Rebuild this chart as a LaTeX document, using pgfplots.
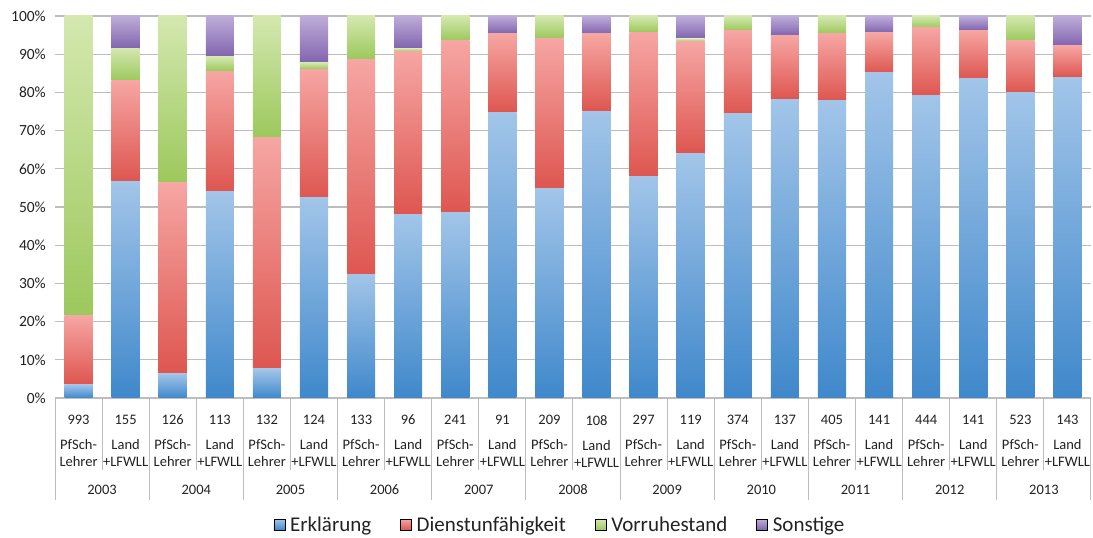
\documentclass[border=0pt]{standalone}
\usepackage{fontspec}
\setmainfont{Carlito}
\usepackage{pgfplots}
\pgfplotsset{compat=1.18}

\definecolor{bTop}{HTML}{A2C5E9}
\definecolor{bBot}{HTML}{3F88CB}
\definecolor{rTop}{HTML}{F6A6A3}
\definecolor{rBot}{HTML}{DE5650}
\definecolor{gTop}{HTML}{D4E8AF}
\definecolor{gBot}{HTML}{9CC85C}
\definecolor{pTop}{HTML}{BEADD9}
\definecolor{pBot}{HTML}{8164AE}
\definecolor{gridc}{HTML}{BDBDBD}
\definecolor{txt}{HTML}{222222}

\newcommand{\xfont}{\fontsize{14.5}{17}\selectfont}
\newcommand{\yfont}{\fontsize{15.5}{18}\selectfont}
\newcommand{\legfont}{\fontsize{21}{24}\selectfont}
\newcommand{\PL}[1]{#1\\[8pt]PfSch-\\Lehrer}
\newcommand{\LL}[1]{#1\\[8pt]Land\\+LFWLL}

\pgfplotsset{
  frame/.style={at={(55pt,140pt)}, anchor=south west,
    scale only axis, width=1036pt, height=382pt,
    xmin=-0.5, xmax=21.5, ymin=0, ymax=100, clip=false},
  colax/.style={frame, hide axis, ybar stacked, bar width=0.595},
}
% one stacked column (own axis, so that every segment gets its own gradient):
% x, Erklaerung, Dienstunfaehigkeit, Vorruhestand, Sonstige (percent)
\newcommand{\seg}[3]{\ifdim #2pt>0pt \addplot[draw=none, top color=#3Top, bottom color=#3Bot] coordinates {(#1,#2)};\fi}
\newcommand{\col}[5]{\begin{axis}[colax]\seg{#1}{#2}{b}\seg{#1}{#3}{r}\seg{#1}{#4}{g}\seg{#1}{#5}{p}\end{axis}}

\begin{document}
\begin{tikzpicture}[x=1pt,y=1pt]
\useasboundingbox (0,0) rectangle (1093,538);
\begin{axis}[
  frame,
  axis line style={draw=none},
  major tick length=0pt,
  xtick={0,...,21},
  xticklabels={{\PL{993}},{\LL{155}},{\PL{126}},{\LL{113}},{\PL{132}},{\LL{124}},{\PL{133}},{\LL{96}},{\PL{241}},{\LL{91}},{\PL{209}},{\LL{108}},{\PL{297}},{\LL{119}},{\PL{374}},{\LL{137}},{\PL{405}},{\LL{141}},{\PL{444}},{\LL{141}},{\PL{523}},{\LL{143}}},
  ytick={0,10,...,100},
  yticklabels={0\%,10\%,20\%,30\%,40\%,50\%,60\%,70\%,80\%,90\%,100\%},
  ymajorgrids, grid style={gridc, line width=1.3pt},
  xticklabel style={font=\xfont, text=txt, align=center, anchor=north, inner sep=0pt, yshift=-17pt},
  yticklabel style={font=\yfont, text=txt, anchor=east, inner sep=0pt, xshift=-9pt},
  legend style={at={(0.487,-0.3325)}, anchor=center, draw=none, fill=none, legend columns=4,
    font=\legfont, text=txt, inner sep=0pt, nodes={inner sep=1pt},
    /tikz/every odd column/.append style={column sep=4pt},
    /tikz/every even column/.append style={column sep=28pt}},
  legend image code/.code={\fill[#1] (0pt,-5pt) rectangle (11pt,6pt);},
]
\addlegendimage{top color=bTop, bottom color=bBot}\addlegendentry{Erklärung}
\addlegendimage{top color=rTop, bottom color=rBot}\addlegendentry{Dienstunfähigkeit}
\addlegendimage{top color=gTop, bottom color=gBot}\addlegendentry{Vorruhestand}
\addlegendimage{top color=pTop, bottom color=pBot}\addlegendentry{Sonstige}

\pgfplotsinvokeforeach{0.5,2.5,...,20.5}{\draw[gridc, line width=1pt] (axis cs:#1,0) -- ++(0pt,-72pt);}
\pgfplotsinvokeforeach{-0.5,1.5,...,21.5}{\draw[gridc, line width=1pt] (axis cs:#1,0) -- ++(0pt,-102pt);}

\node[font=\xfont, text=txt] at (axis cs:0.5,0)  [yshift=-92pt] {2003};
\node[font=\xfont, text=txt] at (axis cs:2.5,0)  [yshift=-92pt] {2004};
\node[font=\xfont, text=txt] at (axis cs:4.5,0)  [yshift=-92pt] {2005};
\node[font=\xfont, text=txt] at (axis cs:6.5,0)  [yshift=-92pt] {2006};
\node[font=\xfont, text=txt] at (axis cs:8.5,0)  [yshift=-92pt] {2007};
\node[font=\xfont, text=txt] at (axis cs:10.5,0) [yshift=-92pt] {2008};
\node[font=\xfont, text=txt] at (axis cs:12.5,0) [yshift=-92pt] {2009};
\node[font=\xfont, text=txt] at (axis cs:14.5,0) [yshift=-92pt] {2010};
\node[font=\xfont, text=txt] at (axis cs:16.5,0) [yshift=-92pt] {2011};
\node[font=\xfont, text=txt] at (axis cs:18.5,0) [yshift=-92pt] {2012};
\node[font=\xfont, text=txt] at (axis cs:20.5,0) [yshift=-92pt] {2013};
\end{axis}

\col{0}{3.5}{18.0}{78.5}{0}
\col{1}{56.7}{26.4}{8.4}{8.5}
\col{2}{6.4}{49.9}{43.7}{0}
\col{3}{54.0}{31.6}{3.7}{10.7}
\col{4}{7.6}{60.6}{31.8}{0}
\col{5}{52.4}{33.7}{1.7}{12.2}
\col{6}{32.3}{56.4}{11.3}{0}
\col{7}{48.0}{42.7}{0.8}{8.5}
\col{8}{48.6}{45.0}{6.4}{0}
\col{9}{74.7}{20.8}{0}{4.5}
\col{10}{54.9}{39.3}{5.8}{0}
\col{11}{75.1}{20.2}{0}{4.7}
\col{12}{58.0}{37.8}{4.2}{0}
\col{13}{63.9}{29.4}{0.7}{6.0}
\col{14}{74.4}{21.8}{3.8}{0}
\col{15}{78.2}{16.7}{0}{5.1}
\col{16}{77.8}{17.6}{4.6}{0}
\col{17}{85.1}{10.5}{0}{4.4}
\col{18}{79.2}{17.7}{3.1}{0}
\col{19}{83.7}{12.6}{0}{3.7}
\col{20}{79.9}{13.6}{6.5}{0}
\col{21}{84.0}{8.2}{0}{7.8}
\end{tikzpicture}
\end{document}
